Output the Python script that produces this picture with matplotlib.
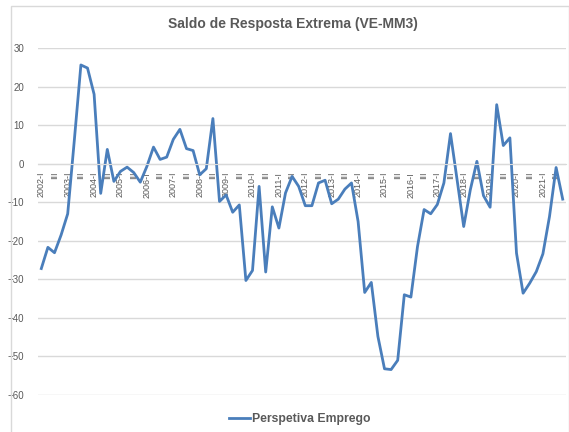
import matplotlib
matplotlib.use("Agg")
import matplotlib.pyplot as plt
from matplotlib.patches import Rectangle

# quarterly data 2002-I .. 2021-IV
years = list(range(2002, 2022))
quarters = ["I", "II", "III", "IV"]
emprego = [
    -27.2, -21.7, -23.1, -18.5,   # 2002
    -13.0, 6.0, 25.6, 24.8,       # 2003
    18.0, -7.7, 3.7, -4.6,        # 2004
    -2.0, -0.9, -2.3, -4.8,       # 2005
    -0.7, 4.3, 1.1, 1.7,          # 2006
    6.3, 8.9, 3.9, 3.4,           # 2007
    -2.9, -1.3, 11.7, -9.8,       # 2008
    -8.1, -12.6, -10.7, -30.3,    # 2009
    -27.7, -5.9, -28.1, -11.2,    # 2010
    -16.7, -7.6, -3.3, -5.9,      # 2011
    -10.9, -10.9, -5.0, -4.3,     # 2012
    -10.4, -9.2, -6.6, -5.0,      # 2013
    -15.0, -33.4, -30.8, -44.8,   # 2014
    -53.2, -53.4, -51.0, -34.0,   # 2015
    -34.6, -21.5, -11.9, -13.0,   # 2016
    -10.6, -5.0, 7.8, -4.2,       # 2017
    -16.3, -6.8, 0.6, -8.3,       # 2018
    -11.3, 15.3, 4.7, 6.7,        # 2019
    -23.2, -33.6, -31.0, -28.0,   # 2020
    -23.4, -13.7, -1.0, -9.2,     # 2021
]

categories = [f"{y}-{q}" for y in years for q in quarters]
# Excel shows every second category: "2002-I", "III", "2003-I", ...
tick_pos = list(range(0, len(categories), 2))
tick_lab = [categories[i] if categories[i].endswith("-I") else "III" for i in tick_pos]

plt.rcParams["font.family"] = ["Liberation Sans", "DejaVu Sans"]
grey = "#595959"
grid_c = "#D9D9D9"

fig = plt.figure(figsize=(5.69, 4.32), dpi=100)
ax = fig.add_axes([38 / 569, 1 - 395 / 432, 528 / 569, 347 / 432])

ax.plot(range(len(emprego)), emprego, color="#4A7EBB", lw=2.0,
        label="Perspetiva Emprego", solid_joinstyle="round")

ax.set_xlim(-0.5, len(emprego) - 0.5)
ax.set_ylim(-60, 30)
ax.set_yticks(range(-60, 31, 10))
ax.yaxis.grid(True, color=grid_c, lw=1)
ax.set_axisbelow(True)

for s in ["top", "right", "left"]:
    ax.spines[s].set_visible(False)
ax.spines["bottom"].set_position(("data", 0))
ax.spines["bottom"].set_color(grid_c)

ax.set_xticks(tick_pos)
ax.set_xticklabels(tick_lab, rotation=90, fontsize=6.5, color=grey, va="top")
ax.tick_params(axis="x", length=0, pad=6)
ax.tick_params(axis="y", length=0, pad=10, labelsize=7, labelcolor=grey)

fig.text(293 / 569, 1 - 24 / 432, "Saldo de Resposta Extrema (VE-MM3)",
         ha="center", va="center", fontsize=10, fontweight="bold", color=grey)

fig.legend(loc="center", bbox_to_anchor=(300 / 569, 1 - 419 / 432), frameon=False,
           prop={"size": 8.8, "weight": "bold"}, labelcolor=grey,
           handlelength=1.7, handletextpad=0.2)

fig.patches.append(Rectangle((11 / 569, -0.01), 557.5 / 569, 1 - 6 / 432 + 0.01,
                             transform=fig.transFigure, fill=False,
                             edgecolor=grid_c, lw=1))

fig.savefig("out.png", dpi=100)
